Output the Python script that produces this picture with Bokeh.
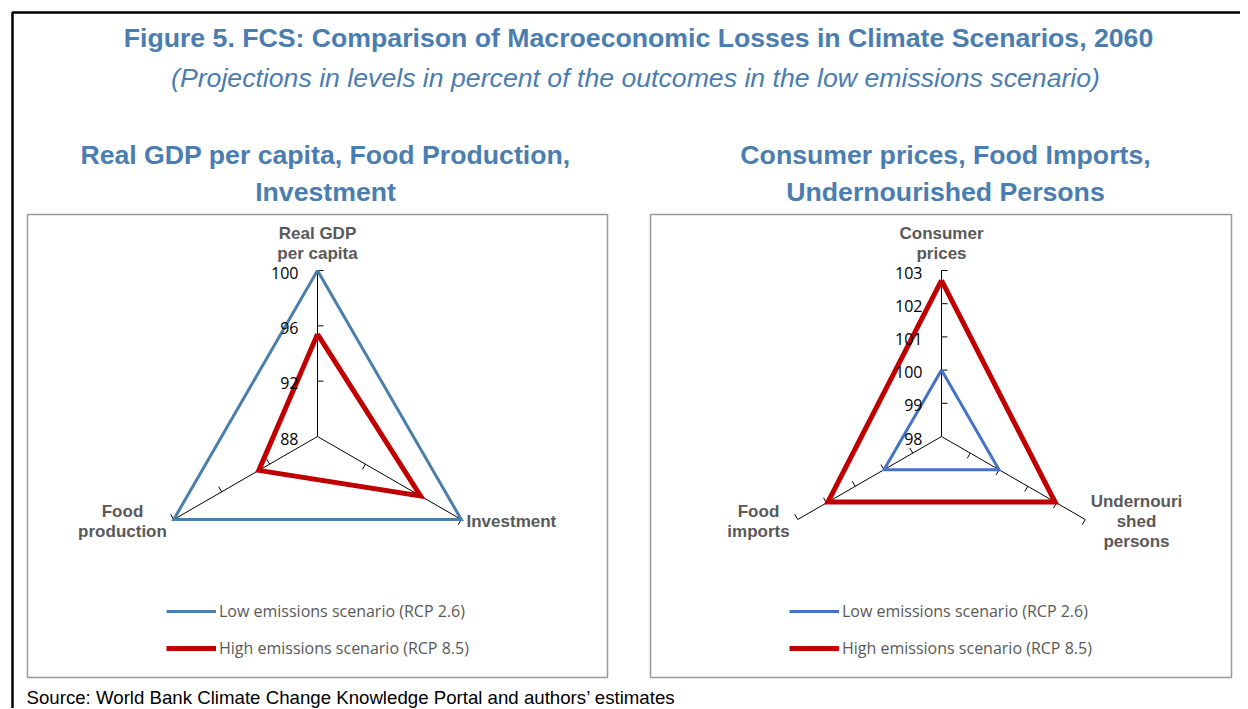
import math
from bokeh.plotting import figure
from bokeh.models import Range1d, Label, BoxAnnotation, Legend, LegendItem
from bokeh.embed import file_html
from bokeh.resources import INLINE

# ---------------- data ----------------
title_text = "Figure 5. FCS: Comparison of Macroeconomic Losses in Climate Scenarios, 2060"
subtitle_text = "(Projections in levels in percent of the outcomes in the low emissions scenario)"
source_text = "Source: World Bank Climate Change Knowledge Portal and authors\u2019 estimates"
series_names = ["Low emissions scenario (RCP 2.6)", "High emissions scenario (RCP 8.5)"]

left_title = ["Real GDP per capita, Food Production,", "Investment"]
left_axes = [["Real GDP", "per capita"], ["Food", "production"], ["Investment"]]
left_low = [100, 100, 100]
left_high = [95.4, 92.9, 96.6]
left_ticks = [88, 92, 96, 100]

right_title = ["Consumer prices, Food Imports,", "Undernourished Persons"]
right_axes = [["Consumer", "prices"], ["Food", "imports"], ["Undernouri", "shed", "persons"]]
right_low = [100, 100, 100]
right_high = [102.7, 101.95, 101.95]
right_ticks = [98, 99, 100, 101, 102, 103]

# ---------------- style ----------------
BLUE_T = "#4a7db0"
GRAY_T = "#595959"
RED = "#c00000"
ANGLES = [90, 210, 330]
AX_FONT = "Liberation Sans"
NUM_FONT = "Open Sans"

W, H = 1240, 708
p = figure(width=W, height=H, x_range=Range1d(0, W), y_range=Range1d(H, 0),
           toolbar_location=None, output_backend="svg", min_border=0)
p.axis.visible = False
p.grid.visible = False
p.outline_line_color = None
p.background_fill_color = "white"

# outer frame
p.add_layout(BoxAnnotation(left=12, top=12, right=1400, bottom=900, fill_alpha=0,
                           line_color="black", line_alpha=1, line_width=2.5))


def lab(x, y, text, size, color, style="normal", align="center", font=AX_FONT):
    p.add_layout(Label(x=x, y=y, text=text, text_align=align, text_baseline="middle",
                       text_font=font, text_font_size=size, text_color=color,
                       text_font_style=style))


lab(638, 37, title_text, "26.67px", BLUE_T, "bold")
lab(635, 77, subtitle_text, "26.67px", BLUE_T, "italic")
lab(26, 697, source_text, "18.67px", "black", "normal", "left")

panels = [
    dict(box=(27, 607), cx=317, cy=436, R=166, title=left_title, tx=325,
         axes=left_axes, low=left_low, high=left_high, ticks=left_ticks,
         low_color="#4a7eab", low_w=3, high_w=5,
         lab_pos=[(317, 233, "center"), (122, 511, "center"), (466, 521, "left")],
         leg_x=166),
    dict(box=(650, 1231), cx=941, cy=436, R=166, title=right_title, tx=945,
         axes=right_axes, low=right_low, high=right_high, ticks=right_ticks,
         low_color="#4472c4", low_w=3, high_w=5,
         lab_pos=[(941, 233, "center"), (758, 511, "center"), (1136, 501, "center")],
         leg_x=789),
]

for pn in panels:
    l, r = pn["box"]
    p.add_layout(BoxAnnotation(left=l, right=r, top=214, bottom=677, fill_alpha=0,
                               line_color="#9a9a9a", line_alpha=1, line_width=1.5))
    for i, t in enumerate(pn["title"]):
        lab(pn["tx"], 154 + 37 * i, t, "26.67px", BLUE_T, "bold")

    cx, cy, R = pn["cx"], pn["cy"], pn["R"]
    vmin, vmax = pn["ticks"][0], pn["ticks"][-1]

    def pt(v, ang):
        rr = (v - vmin) / (vmax - vmin) * R
        a = math.radians(ang)
        return cx + rr * math.cos(a), cy - rr * math.sin(a)

    # spokes and ticks
    for ang in ANGLES:
        ex, ey = pt(vmax, ang)
        p.line([cx, ex], [cy, ey], line_color="black", line_width=1)
        a = math.radians(ang)
        tx_, ty_ = math.sin(a), math.cos(a)  # perpendicular (screen coords, y down)
        xs, ys = [], []
        for tv in pn["ticks"][1:]:
            bx, by = pt(tv, ang)
            xs.append([bx, bx + 6 * tx_])
            ys.append([by, by + 6 * ty_])
        p.multi_line(xs, ys, line_color="black", line_width=1)

    # tick labels on the top axis
    for tv in pn["ticks"]:
        bx, by = pt(tv, 90)
        lab(cx - 19, by + 2, str(tv), "16px", "black", "normal", "right", NUM_FONT)

    # axis names
    for (lx, ly, al), lines in zip(pn["lab_pos"], pn["axes"]):
        for j, s in enumerate(lines):
            lab(lx, ly + 20 * j, s, "17px", GRAY_T, "bold", al)

    # series
    rends = []
    for vals, col, lw in [(pn["low"], pn["low_color"], pn["low_w"]),
                          (pn["high"], RED, pn["high_w"])]:
        pts = [pt(v, a) for v, a in zip(vals, ANGLES)]
        xs = [q[0] for q in pts] + [pts[0][0]]
        ys = [q[1] for q in pts] + [pts[0][1]]
        rends.append(p.line(xs, ys, line_color=col, line_width=lw, line_join="miter"))

    leg = Legend(items=[LegendItem(label=series_names[0], renderers=[rends[0]]),
                        LegendItem(label=series_names[1], renderers=[rends[1]])],
                 location=(pn["leg_x"], H - 658.5), orientation="vertical",
                 glyph_width=50, glyph_height=20, label_height=20, spacing=15,
                 padding=0, margin=0, label_standoff=3,
                 border_line_color=None, background_fill_alpha=0,
                 label_text_font=NUM_FONT, label_text_font_size="16px",
                 label_text_color=GRAY_T)
    p.add_layout(leg)

open("out.html", "w").write(file_html(p, INLINE))
